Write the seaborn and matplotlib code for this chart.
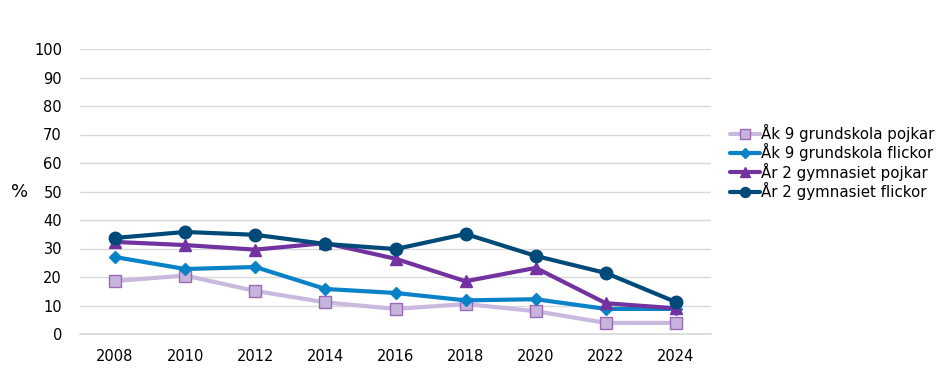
import matplotlib
matplotlib.use("Agg")
import matplotlib.pyplot as plt
import seaborn as sns
import pandas as pd

years = [2008, 2010, 2012, 2014, 2016, 2018, 2020, 2022, 2024]
series_names = ["Åk 9 grundskola pojkar", "Åk 9 grundskola flickor",
                "År 2 gymnasiet pojkar", "År 2 gymnasiet flickor"]
ak9_pojkar = [18.6, 20.5, 15.1, 11.1, 8.8, 10.5, 8.0, 3.9, 3.9]
ak9_flickor = [27.0, 22.8, 23.5, 15.8, 14.4, 11.8, 12.2, 8.8, 8.8]
ar2_pojkar = [32.3, 31.2, 29.6, 31.9, 26.4, 18.5, 23.2, 10.8, 9.0]
ar2_flickor = [33.7, 35.8, 34.8, 31.6, 29.8, 35.1, 27.4, 21.4, 11.2]
y_ticks = [0, 10, 20, 30, 40, 50, 60, 70, 80, 90, 100]

values = [ak9_pojkar, ak9_flickor, ar2_pojkar, ar2_flickor]
rows = []
for name, vals in zip(series_names, values):
    for yr, v in zip(years, vals):
        rows.append({"year": yr, "value": v, "series": name})
df = pd.DataFrame(rows)

line_colors = ["#C9B9DE", "#0A82C8", "#7232A0", "#004A7A"]
marker_face = ["#C6B4DC", "#0A82C8", "#7232A0", "#004A7A"]
marker_edge = ["#9A6AB4", "#0A82C8", "#7232A0", "#004A7A"]
markers = ["s", "D", "^", "o"]
msizes = [8.5, 6, 8.5, 9]

sns.set_theme(style="white")
plt.rcParams['font.family'] = ['DejaVu Sans']
plt.rcParams['text.color'] = 'black'

fig = plt.figure(figsize=(9.45, 3.77), dpi=100)
ax = fig.add_axes([80/945, 43/377, 631/945, 285/377])

for i, name in enumerate(series_names):
    sub = df[df["series"] == name]
    sns.lineplot(data=sub, x="year", y="value", ax=ax, color=line_colors[i],
                 linewidth=3, marker=markers[i], markersize=msizes[i],
                 markerfacecolor=marker_face[i], markeredgecolor=marker_edge[i],
                 markeredgewidth=1.0, label=name, zorder=3 + i)

ax.set_xlim(2007, 2025)
ax.set_ylim(0, 100)
ax.set_xticks(years)
ax.set_xticklabels([str(y) for y in years])
ax.set_yticks(y_ticks)
ax.set_yticklabels([str(t) for t in y_ticks])
ax.tick_params(axis="y", labelsize=10.5, labelcolor="black", length=0, pad=13)
ax.tick_params(axis="x", labelsize=10.5, labelcolor="black", length=0, pad=11)
ax.grid(axis="y", color="#D9D9D9", linewidth=1)
ax.set_axisbelow(True)
for s in ["top", "right", "left"]:
    ax.spines[s].set_visible(False)
ax.spines["bottom"].set_color("#D9D9D9")
ax.set_xlabel("")
ax.set_ylabel("")
fig.text(20/945, 1 - 192/377, "%", fontsize=13, ha="center", va="center", color="black")

leg = ax.legend(loc="center left", bbox_to_anchor=(724/945, 1 - 162/377),
                bbox_transform=fig.transFigure, frameon=False, fontsize=10.8,
                handlelength=2.0, handletextpad=0.1, labelspacing=0.08,
                borderaxespad=0, markerscale=0.8)
for t in leg.get_texts():
    t.set_color("black")
fig.savefig("out.png", dpi=100)
